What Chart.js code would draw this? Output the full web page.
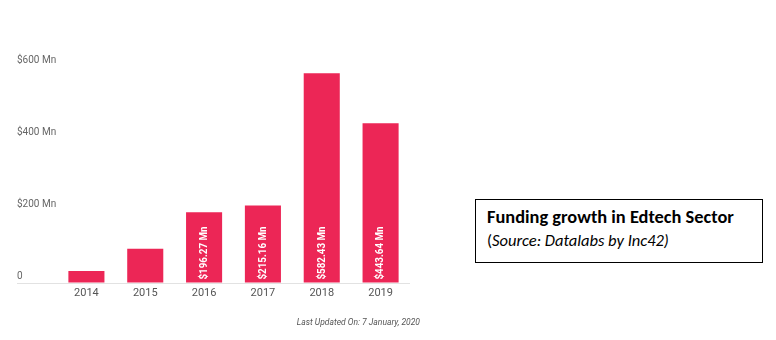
<!DOCTYPE html>
<html>
<head>
<meta charset="utf-8">
<script src="https://cdn.jsdelivr.net/npm/chart.js@4"></script>
<style>
  html, body { margin: 0; padding: 0; background: #fff; }
  #wrap { position: relative; width: 776px; height: 340px; overflow: hidden; }
  #chart { position: absolute; left: 0; top: 0; }
  #updated {
    position: absolute; right: 356px; top: 317px;
    font: italic 8.5px Roboto, sans-serif; color: #555; white-space: nowrap;
  }
  #caption {
    position: absolute; left: 475px; top: 199px; width: 286px; height: 62px;
    border: 1px solid #000; box-sizing: content-box;
    font-family: Carlito, Lato, sans-serif; color: #000;
  }
  #caption .t { position: absolute; left: 11px; top: 6px; font-size: 18.4px; font-weight: bold; line-height: 22px; white-space: nowrap; }
  #caption .s { position: absolute; left: 11px; top: 30px; font-size: 16.5px; line-height: 20px; white-space: nowrap; }
</style>
</head>
<body>
<div id="wrap">
  <canvas id="chart" width="440" height="340"></canvas>
  <div id="updated">Last Updated On: 7 January, 2020</div>
  <div id="caption">
    <div class="t">Funding growth in Edtech Sector</div>
    <div class="s">(<i>Source: Datalabs by Inc42)</i></div>
  </div>
</div>
<script>
var years = ["2014", "2015", "2016", "2017", "2018", "2019"];
var funding = [33, 95, 196.27, 215.16, 582.43, 443.64]; // $ Mn
var yTicks = [0, 200, 400, 600];

var barColor = "#ec2656";

function money(v) {
  return "$" + v.toFixed(2) + " Mn";
}

// value text written upward inside the taller bars, slightly condensed
var barLabels = {
  id: "barLabels",
  afterDatasetsDraw: function(chart) {
    var ctx = chart.ctx;
    var meta = chart.getDatasetMeta(0);
    ctx.save();
    ctx.font = "bold 11px Roboto, sans-serif";
    ctx.fillStyle = "#fff";
    ctx.textAlign = "left";
    ctx.textBaseline = "middle";
    var squeeze = 53 / ctx.measureText("$000.00 Mn").width;
    for (var i = 0; i < meta.data.length; i++) {
      var bar = meta.data[i];
      var txt = money(funding[i]);
      var w = ctx.measureText(txt).width * squeeze;
      if (bar.base - bar.y < w + 8) continue;
      ctx.save();
      ctx.translate(bar.x, bar.base - 3);
      ctx.rotate(-Math.PI / 2);
      ctx.scale(squeeze, 1);
      ctx.fillText(txt, 0, 0);
      ctx.restore();
    }
    ctx.restore();
  }
};

new Chart(document.getElementById("chart"), {
  type: "bar",
  data: {
    labels: years,
    datasets: [{
      data: funding,
      backgroundColor: barColor,
      borderWidth: 0,
      categoryPercentage: 0.613,
      barPercentage: 1
    }]
  },
  options: {
    responsive: false,
    animation: false,
    layout: { padding: { left: 17, right: 30, top: 67, bottom: 37 } },
    plugins: {
      legend: { display: false },
      tooltip: { enabled: false }
    },
    scales: {
      x: {
        grid: { display: false, drawTicks: false },
        border: { display: false },
        ticks: {
          color: "#555",
          padding: 4,
          font: { family: "Roboto", size: 11 }
        },
        afterFit: function(scale) { scale.height = 20; }
      },
      y: {
        min: 0,
        max: 600,
        afterBuildTicks: function(scale) {
          scale.ticks = yTicks.map(function(v) { return { value: v }; });
        },
        border: { display: false },
        grid: {
          tickLength: 40,
          lineWidth: 1,
          color: function(c) {
            return c.tick && c.tick.value === 0 ? "#e2e2e2" : "rgba(0,0,0,0)";
          }
        },
        ticks: {
          crossAlign: "far",
          labelOffset: -7,
          color: "#666",
          font: { family: "Roboto", size: 10 },
          callback: function(v) { return v === 0 ? "0" : "$" + v + " Mn"; }
        },
        afterFit: function(scale) { scale.width = 40; }
      }
    }
  },
  plugins: [barLabels]
});
</script>
</body>
</html>
